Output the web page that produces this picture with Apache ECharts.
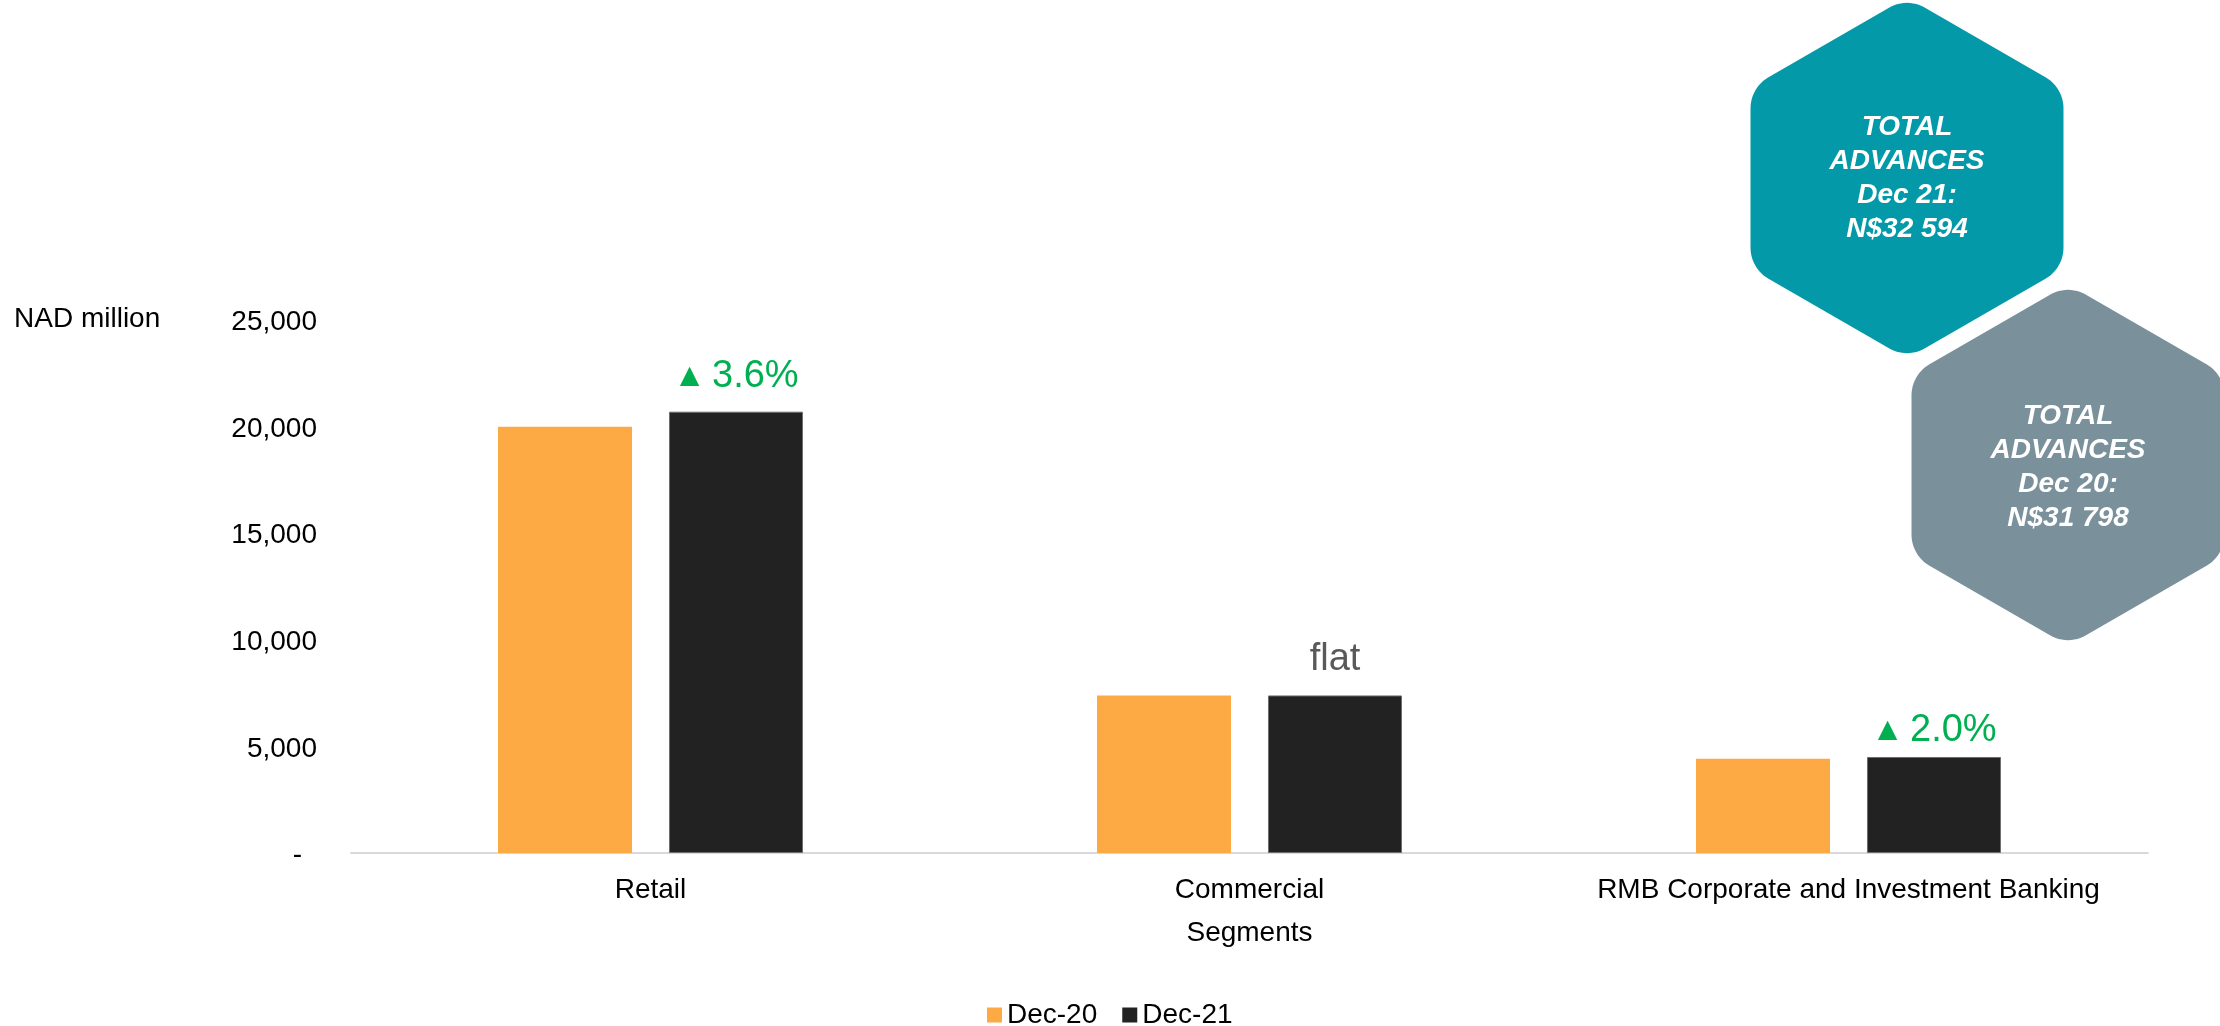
<!DOCTYPE html>
<html>
<head>
<meta charset="utf-8">
<script src="https://cdn.jsdelivr.net/npm/echarts@6/dist/echarts.min.js"></script>
<style>
  html, body { margin: 0; padding: 0; background: #ffffff; }
  #chart { width: 2220px; height: 1026px; }
</style>
</head>
<body>
<div id="chart"></div>
<script>
// ---- Data ----
const categories = ['Retail', 'Commercial', 'RMB Corporate and Investment Banking'];
const seriesNames = ['Dec-20', 'Dec-21'];
const dec20 = [19990, 7390, 4418];
const dec21 = [20700, 7390, 4504];
const changeLabels = ['3.6%', 'flat', '2.0%'];
const changeUp = [true, false, true];
const yMin = 0, yMax = 25000, yInterval = 5000;
const yAxisTitle = 'NAD million';
const xAxisTitle = 'Segments';
const hexTextDec21 = ['TOTAL', 'ADVANCES', 'Dec 21:', 'N$32 594'];
const hexTextDec20 = ['TOTAL', 'ADVANCES', 'Dec 20:', 'N$31 798'];

// ---- Styles / layout ----
const FONT = '"Liberation Sans", Arial, sans-serif';
const ORANGE = '#FDAA44';
const BLACK = '#222222';
const GREEN = '#00B050';
const labelDistances = [15, 16, 6];

function hexPoints(cx, cy, R, r) {
  const pts = [];
  const dC = R - r / Math.sin(Math.PI / 3);
  for (let i = 0; i < 6; i++) {
    const th = (-90 + 60 * i) * Math.PI / 180;
    const ccx = cx + dC * Math.cos(th), ccy = cy + dC * Math.sin(th);
    for (let k = 0; k <= 12; k++) {
      const a = th + (-30 + 5 * k) * Math.PI / 180;
      pts.push([ccx + r * Math.cos(a), ccy + r * Math.sin(a)]);
    }
  }
  return pts;
}

const chart = echarts.init(document.getElementById('chart'), null, { renderer: 'canvas' });

const dec21Data = dec21.map((v, i) => ({
  value: v,
  label: {
    show: true,
    position: 'top',
    distance: labelDistances[i],
    formatter: changeUp[i] ? '{tri|▲}{pct|' + changeLabels[i] + '}' : '{flat|' + changeLabels[i] + '}'
  }
}));

const option = {
  animation: false,
  backgroundColor: '#ffffff',
  textStyle: { fontFamily: FONT },
  grid: { left: 351, right: 72, top: 320, bottom: 173, containLabel: false },
  legend: {
    data: seriesNames,
    left: 982,
    top: 996,
    icon: 'rect',
    itemWidth: 15,
    itemHeight: 15,
    itemGap: 25,
    itemStyle: { borderWidth: 0 },
    textStyle: { fontFamily: FONT, fontSize: 28, color: '#000000' }
  },
  xAxis: {
    type: 'category',
    data: categories,
    name: xAxisTitle,
    nameLocation: 'middle',
    nameGap: 66,
    nameTextStyle: { fontFamily: FONT, fontSize: 28, color: '#000000' },
    axisLine: { show: true, lineStyle: { color: '#D9D9D9', width: 2 } },
    axisTick: { show: false },
    axisLabel: { interval: 0, margin: 23, fontFamily: FONT, fontSize: 28, color: '#000000' },
    splitLine: { show: false }
  },
  yAxis: {
    type: 'value',
    min: yMin,
    max: yMax,
    interval: yInterval,
    axisLine: { show: false },
    axisTick: { show: false },
    splitLine: { show: false },
    axisLabel: {
      margin: 34,
      fontFamily: FONT,
      fontSize: 28,
      color: '#000000',
      padding: [5, 0, 0, 0],
      formatter: function (v) {
        return v === 0 ? '{z|-}' : v.toLocaleString('en-US');
      },
      rich: {
        z: { fontFamily: FONT, fontSize: 28, color: '#000000', padding: [0, 15, 0, 0] }
      }
    }
  },
  series: [
    {
      name: seriesNames[0],
      type: 'bar',
      data: dec20,
      barWidth: 134,
      barGap: '27.6%',
      itemStyle: { color: ORANGE }
    },
    {
      name: seriesNames[1],
      type: 'bar',
      data: dec21Data,
      barWidth: 134,
      barGap: '27.6%',
      itemStyle: { color: BLACK, borderColor: '#6E6E6E', borderWidth: 1 },
      label: {
        show: true,
        position: 'top',
        lineHeight: 40,
        rich: {
          tri: { fontFamily: FONT, fontSize: 33, color: GREEN, lineHeight: 40, padding: [0, 6, 0, 0] },
          pct: { fontFamily: FONT, fontSize: 38, color: GREEN, lineHeight: 40 },
          flat: { fontFamily: FONT, fontSize: 38, color: '#595959', lineHeight: 40 }
        }
      }
    }
  ],
  graphic: [
    {
      type: 'text',
      left: 14,
      top: 305,
      style: { text: yAxisTitle, font: '28px ' + FONT, fill: '#000000' }
    },
    {
      type: 'polygon',
      shape: { points: hexPoints(1907, 178, 180.7, 36) },
      style: { fill: '#0399A8' },
      z: 10
    },
    {
      type: 'polygon',
      shape: { points: hexPoints(2068, 465, 180.7, 36) },
      style: { fill: '#7A909A' },
      z: 10
    },
    {
      type: 'text',
      x: 1907,
      y: 178,
      z: 11,
      style: {
        text: hexTextDec21.join('\n'),
        font: 'italic bold 28px ' + FONT,
        fill: '#ffffff',
        align: 'center',
        verticalAlign: 'middle',
        lineHeight: 34
      }
    },
    {
      type: 'text',
      x: 2068,
      y: 467,
      z: 11,
      style: {
        text: hexTextDec20.join('\n'),
        font: 'italic bold 28px ' + FONT,
        fill: '#ffffff',
        align: 'center',
        verticalAlign: 'middle',
        lineHeight: 34
      }
    }
  ]
};

chart.setOption(option);
</script>
</body>
</html>
